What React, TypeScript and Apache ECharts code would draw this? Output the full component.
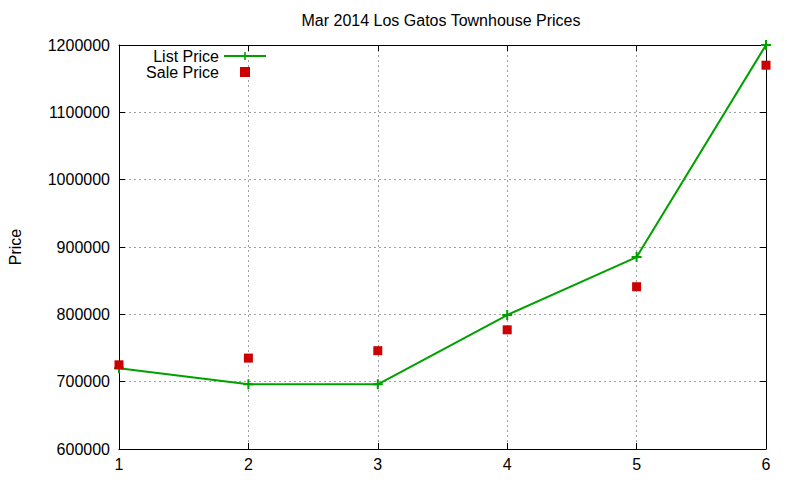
import React, { useEffect, useRef } from "react";
import * as echarts from "echarts";

const weeks = [1, 2, 3, 4, 5, 6];
const listPrices = [720000, 696000, 696000, 799000, 885000, 1200000];
const salePrices = [725000, 735000, 746000, 777000, 841000, 1170000];

const plusIcon = "path://M4,0H6V4H10V6H6V10H4V6H0V4H4Z";
const squareIcon = "path://M0,0H10V10H0Z";
const font = "Liberation Sans, Arial, sans-serif";

const App: React.FC = () => {
  const chartRef = useRef<HTMLDivElement>(null);

  useEffect(() => {
    if (!chartRef.current) return;
    const chart = echarts.init(chartRef.current, null, { renderer: "svg" });

    const axisLine = { show: true, lineStyle: { color: "#000", width: 1 } };
    const tick = { show: true, inside: true, length: 6, lineStyle: { color: "#000" } };
    const grid = { show: true, lineStyle: { color: "#a0a0a0", type: [2, 3] as any, width: 1 } };

    const option: echarts.EChartsOption = {
      animation: false,
      backgroundColor: "#fff",
      textStyle: { fontFamily: font },
      title: {
        text: "Mar 2014 Los Gatos Townhouse Prices",
        left: 441,
        top: 12,
        padding: 0,
        textAlign: "center",
        textStyle: { fontSize: 16, fontWeight: "normal", color: "#000", fontFamily: font },
      },
      grid: { left: 119, right: 34, top: 45, bottom: 31, outerBoundsMode: "none" } as any,
      legend: {
        orient: "vertical",
        right: 533,
        top: 48,
        padding: 0,
        align: "right",
        itemWidth: 42,
        itemHeight: 10,
        itemGap: 0,
        textStyle: { fontSize: 16, color: "#000", fontFamily: font },
        data: [
          { name: "List Price" },
          { name: "Sale Price", icon: squareIcon },
        ],
      },
      xAxis: [
        {
          type: "value",
          min: 1,
          max: 6,
          interval: 1,
          position: "bottom",
          axisLine,
          axisTick: tick,
          splitLine: grid,
          axisLabel: { fontSize: 16, color: "#000", margin: 7, fontFamily: font },
        },
        {
          type: "value",
          min: 1,
          max: 6,
          interval: 1,
          position: "top",
          axisLine,
          axisTick: tick,
          splitLine: { show: false },
          axisLabel: { show: false },
        },
      ],
      yAxis: [
        {
          type: "value",
          min: 600000,
          max: 1200000,
          interval: 100000,
          position: "left",
          name: "Price",
          nameLocation: "middle",
          nameGap: 96,
          nameRotate: 90,
          nameTextStyle: { fontSize: 16, color: "#000", fontFamily: font },
          axisLine,
          axisTick: tick,
          splitLine: grid,
          axisLabel: {
            fontSize: 16,
            color: "#000",
            margin: 9,
            fontFamily: font,
            formatter: (v: number) => String(v),
          },
        },
        {
          type: "value",
          min: 600000,
          max: 1200000,
          interval: 100000,
          position: "right",
          axisLine,
          axisTick: tick,
          splitLine: { show: false },
          axisLabel: { show: false },
        },
      ],
      series: [
        {
          name: "List Price",
          type: "line",
          data: weeks.map((w, i) => [w, listPrices[i]]),
          symbol: plusIcon,
          symbolSize: 10,
          showAllSymbol: true,
          clip: false,
          lineStyle: { color: "#00a000", width: 2 },
          itemStyle: { color: "#00a000" },
          z: 3,
        },
        {
          name: "Sale Price",
          type: "scatter",
          data: weeks.map((w, i) => [w, salePrices[i]]),
          symbol: "rect",
          symbolSize: 9,
          clip: false,
          itemStyle: { color: "#cc0000", opacity: 1 },
          z: 4,
        },
      ],
    };

    chart.setOption(option);
    return () => {
      chart.dispose();
    };
  }, []);

  return <div ref={chartRef} style={{ width: 800, height: 480, margin: -8 }} />;
};

export default App;
